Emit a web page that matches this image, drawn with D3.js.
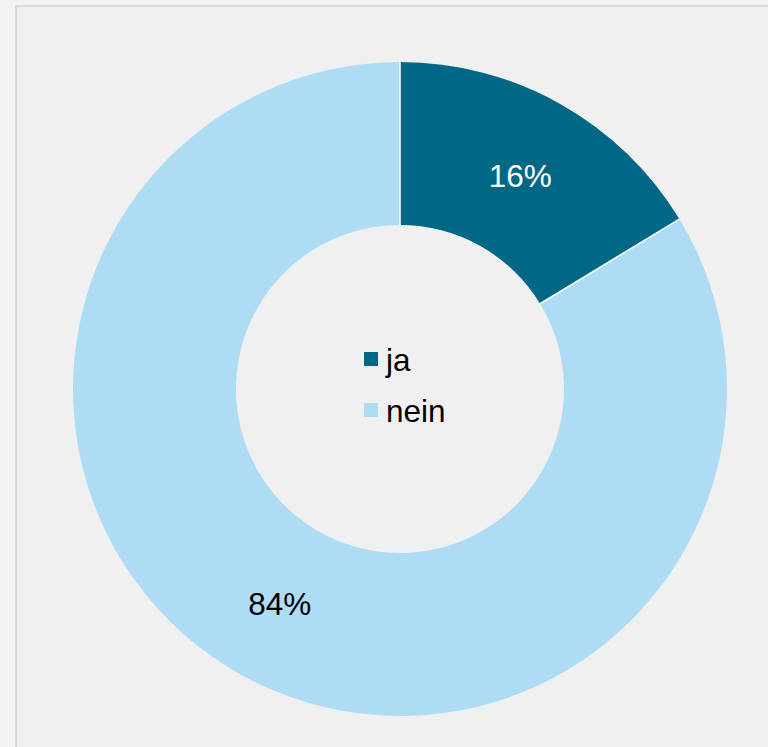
<!DOCTYPE html>
<html><head><meta charset="utf-8">
<script src="https://cdn.jsdelivr.net/npm/d3@7"></script>
<style>html,body{margin:0;padding:0;background:#f2f2f2;overflow:hidden}</style>
</head><body>
<svg id="chart" width="768" height="747"></svg>
<script>
const categories = ["ja", "nein"];
const values = [16.3, 83.7];
const labels = ["16%", "84%"];
const colors = ["#006885", "#afdcf5"];
const labelColors = ["#ffffff", "#000000"];

const svg = d3.select("#chart");
svg.append("rect").attr("x", 0).attr("y", 0).attr("width", 768).attr("height", 747).attr("fill", "#f2f2f2");
svg.append("rect").attr("x", 16).attr("y", 6).attr("width", 800).attr("height", 800)
  .attr("fill", "#f0f0f0").attr("stroke", "#d9d9d9").attr("stroke-width", 2);

const cx = 400, cy = 389, rOuter = 327, rInner = 164;
const g = svg.append("g").attr("transform", `translate(${cx},${cy})`);
const pie = d3.pie().sort(null).value(d => d.v);
const data = categories.map((c, i) => ({c, v: values[i], i}));
const arcs = pie(data);
const arc = d3.arc().innerRadius(rInner).outerRadius(rOuter);
g.selectAll("path").data(arcs).join("path")
  .attr("d", arc).attr("fill", d => colors[d.data.i]);

// white separator lines between slices
g.selectAll("line.sep").data(arcs).join("line").attr("class", "sep")
  .attr("x1", d => rInner * Math.sin(d.startAngle))
  .attr("y1", d => -rInner * Math.cos(d.startAngle))
  .attr("x2", d => rOuter * Math.sin(d.startAngle))
  .attr("y2", d => -rOuter * Math.cos(d.startAngle))
  .attr("stroke", "#ffffff").attr("stroke-width", 1.5);

const labelArc = d3.arc().innerRadius((rInner + rOuter) / 2).outerRadius((rInner + rOuter) / 2);
g.selectAll("text.lbl").data(arcs).join("text").attr("class", "lbl")
  .attr("transform", d => `translate(${labelArc.centroid(d)})`)
  .attr("text-anchor", "middle").attr("dy", "0.38em")
  .attr("font-family", "Liberation Sans, Arial, sans-serif").attr("font-size", 31.5)
  .attr("fill", d => labelColors[d.data.i])
  .text(d => labels[d.data.i]);

const leg = svg.append("g").attr("transform", "translate(364,352)");
const items = leg.selectAll("g").data(categories).join("g")
  .attr("transform", (d, i) => `translate(0,${i * 51})`);
items.append("rect").attr("width", 14).attr("height", 14).attr("fill", (d, i) => colors[i]);
items.append("text").attr("x", 22).attr("y", 7).attr("dy", "0.38em")
  .attr("font-family", "Liberation Sans, Arial, sans-serif").attr("font-size", 31.5)
  .attr("fill", "#000").text(d => d);
</script>
</body></html>
